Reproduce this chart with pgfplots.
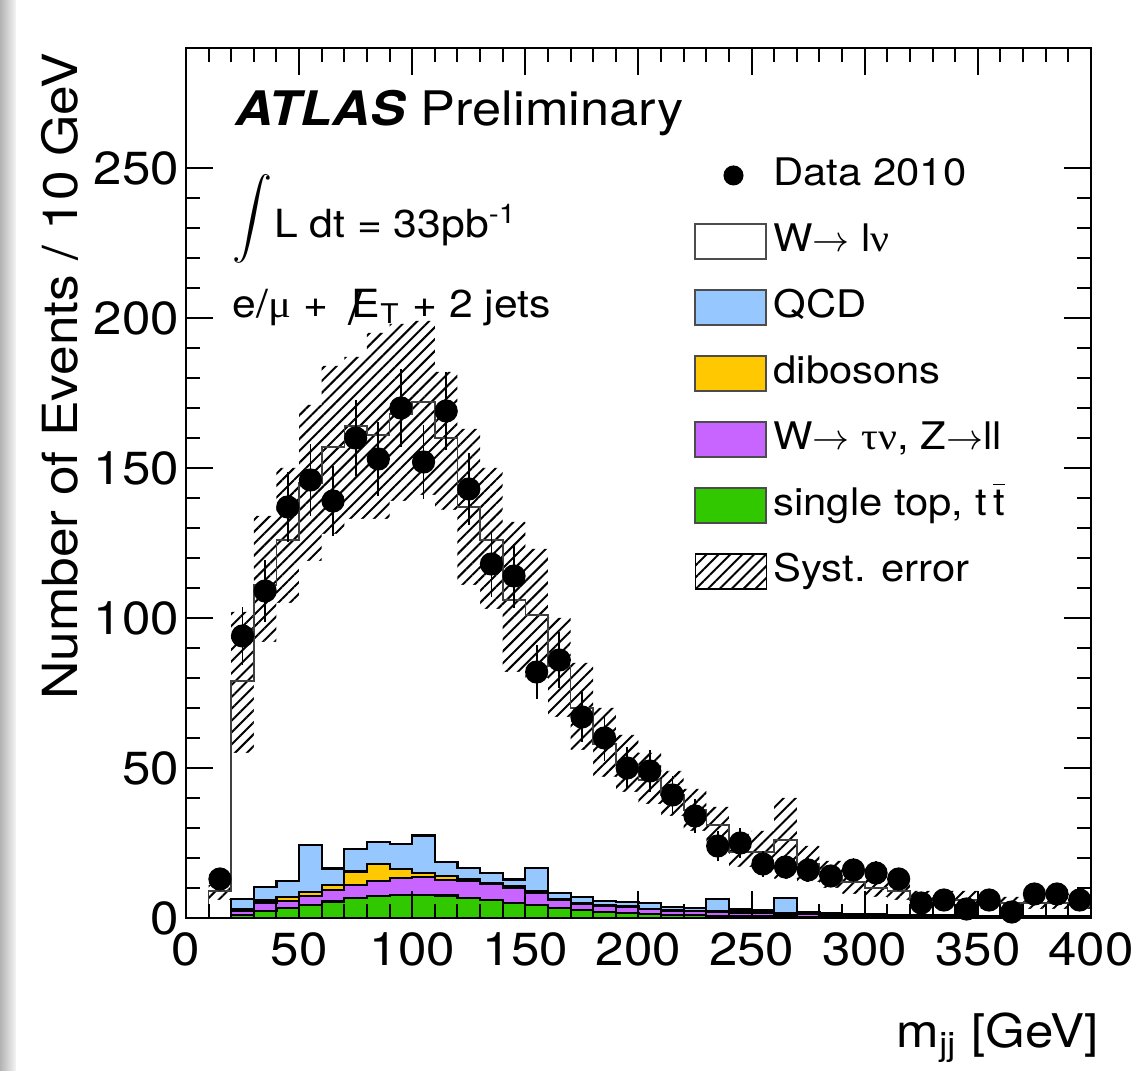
\documentclass[border=0pt]{standalone}
\usepackage{fontspec}
\setmainfont{TeX Gyre Heros}[FakeStretch=1.1]
\newfontfamily\grk{Liberation Serif}[FakeStretch=1.1]
\usepackage{pgfplots}
\pgfplotsset{compat=1.18}
\usepackage{pgfplotstable}
\usetikzlibrary{patterns.meta}

\definecolor{qcdblue}{RGB}{150,200,255}
\definecolor{dibor}{RGB}{255,200,0}
\definecolor{taupur}{RGB}{200,100,255}
\definecolor{topgr}{RGB}{50,200,0}

% cumulative stack tops per 10 GeV bin (left edge), total MC, syst. band
\pgfplotstableread{
x g gp gpd gpdq tot lo hi
10 0 0 0 0 9 6 11
20 1.0 2.3 2.8 6.3 79 55 102
30 2.3 4.9 5.8 10.4 111 92 134
40 3.2 5.6 7.0 12.4 126 105 150
50 4.4 7.4 8.7 24.2 145 119 171
60 5.5 9.4 11.1 16.5 157 128 184
70 6.6 11.1 15.5 23.1 164 133 187
80 7.2 12.3 17.9 25.3 161 133 195
90 7.7 13.4 16.3 24.6 168 139 198
100 7.7 13.6 15.0 27.5 172 141 199
110 7.5 12.6 13.9 18.7 160 136 182
120 6.6 12.2 12.8 16.7 137 111 163
130 6.0 11.3 11.6 15.0 126 103 150
140 4.9 10.0 10.5 12.8 106 82 132
150 4.4 8.5 8.8 16.6 101 80 123
160 3.2 6.0 6.3 8.4 84 67 100
170 2.6 4.6 5.0 6.9 70 56 85
180 2.1 4.0 4.3 5.7 58 47 70
190 1.7 3.6 3.8 5.2 51 42 61
200 1.3 2.9 3.1 4.9 46 38 55
210 1.0 2.5 2.7 3.6 41 34 49
220 0.9 2.2 2.4 3.4 36 29 43
230 0.7 2.1 2.3 6.4 31 25 37
240 0.6 1.8 2.0 2.8 22 17 28
250 0.5 1.6 1.8 2.5 22 15 29
260 0.5 1.5 1.6 6.6 26 13 40
270 0.4 1.2 1.3 1.8 18 12 24
280 0.3 1.0 1.1 1.5 14 10 19
290 0.3 0.9 1.0 1.3 12 8 16
300 0.2 0.8 0.9 1.2 10 7 14
310 0.2 0.7 0.8 1.1 9 6 12
320 0.2 0.6 0.7 1.0 6 4 9
330 0.1 0.5 0.6 0.9 6 4 9
340 0.1 0.5 0.5 0.8 6 3 9
350 0.1 0.4 0.5 0.7 5 3 8
360 0.1 0.4 0.4 0.6 5 3 7
370 0.1 0.3 0.4 0.6 5 3 8
380 0.1 0.3 0.3 0.5 5 3 8
390 0.1 0.3 0.3 0.5 5 3 8
400 0.1 0.3 0.3 0.5 5 3 8
}\mc

% data 2010: bin centre, events, stat. error
\pgfplotstableread{
x y e
15 13 3.6
25 94 9.7
35 109 10.4
45 137 11.7
55 146 12.1
65 139 11.8
75 160 12.6
85 153 12.4
95 170 13.0
105 152 12.3
115 169 13.0
125 143 12.0
135 118 10.9
145 114 10.7
155 82 9.1
165 86 9.3
175 67 8.2
185 60 7.7
195 50 7.1
205 49 7.0
215 41 6.4
225 34 5.8
235 24 4.9
245 25 5.0
255 18 4.2
265 17 4.1
275 16 4.0
285 14 3.7
295 16 4.0
305 15 3.9
315 13 3.6
325 5 2.2
335 6 2.4
345 3 1.7
355 6 2.4
365 2 1.4
375 8 2.8
385 8 2.8
395 6 2.4
}\data

\begin{document}
\begin{tikzpicture}
\begin{axis}[
  width=226.25pt, height=217.5pt, scale only axis,
  xmin=0, xmax=400, ymin=0, ymax=290,
  xtick={0,50,...,400}, ytick={0,50,...,250},
  minor x tick num=4, minor y tick num=4,
  major tick length=6.75pt, minor tick length=3.5pt,
  tick align=inside,
  tick label style={font=\fontsize{11.6}{14}\selectfont},
  yticklabel style={xshift=1.8pt},
  /pgf/number format/assume math mode=true,
  axis line style={line width=0.5pt},
  every tick/.style={black, line width=0.5pt},
  axis on top,
  clip mode=individual,
  legend style={at={(0.561,0.882)}, anchor=north west, draw=none, fill=none,
    inner sep=0pt, row sep=4.5pt, font=\fontsize{9.5}{11}\selectfont,
    nodes={inner sep=1.5pt, text height=7pt, text depth=2pt}},
  legend cell align=left,
]
% systematic band (hatched), then blanked below its lower edge
\addplot[const plot, pattern={Lines[angle=45,distance=2.1pt,line width=0.5pt]}, draw=none, forget plot] table[x=x,y=hi]{\mc} \closedcycle;
\addplot[const plot, fill=white, draw=none, forget plot] table[x=x,y=lo]{\mc} \closedcycle;
% total MC outline (W -> l nu on top of the stack)
\addplot[const plot, draw=black!75, line width=0.4pt, forget plot] table[x=x,y=tot]{\mc} \closedcycle;
\addplot[const plot, fill=qcdblue, draw=black, line width=0.55pt, forget plot] table[x=x,y=gpdq]{\mc} \closedcycle;
\addplot[const plot, fill=dibor, draw=black, line width=0.55pt, forget plot] table[x=x,y=gpd]{\mc} \closedcycle;
\addplot[const plot, fill=taupur, draw=black, line width=0.55pt, forget plot] table[x=x,y=gp]{\mc} \closedcycle;
\addplot[const plot, fill=topgr, draw=black, line width=0.55pt, forget plot] table[x=x,y=g]{\mc} \closedcycle;

\addplot[only marks, mark=*, mark size=2.7pt, black, forget plot,
  error bars/.cd, y dir=both, y explicit, error mark=none,
  error bar style={line width=0.45pt, black}] table[x=x,y=y,y error=e]{\data};

\addlegendimage{legend image code/.code={\fill[black] (9.5pt,0pt) circle (2.3pt);}}
\addlegendentry{Data 2010}
\addlegendimage{legend image code/.code={\draw[black!70, line width=0.5pt, fill=white] (0pt,-4.4pt) rectangle (17.75pt,4.4pt);}}
\addlegendentry{W$\rightarrow$ l{\grk ν}}
\addlegendimage{legend image code/.code={\draw[black!70, line width=0.5pt, fill=qcdblue] (0pt,-4.4pt) rectangle (17.75pt,4.4pt);}}
\addlegendentry{QCD}
\addlegendimage{legend image code/.code={\draw[black!70, line width=0.5pt, fill=dibor] (0pt,-4.4pt) rectangle (17.75pt,4.4pt);}}
\addlegendentry{dibosons}
\addlegendimage{legend image code/.code={\draw[black!70, line width=0.5pt, fill=taupur] (0pt,-4.4pt) rectangle (17.75pt,4.4pt);}}
\addlegendentry{W$\rightarrow$ {\grk τν}, Z$\rightarrow$ll}
\addlegendimage{legend image code/.code={\draw[black!70, line width=0.5pt, fill=topgr] (0pt,-4.4pt) rectangle (17.75pt,4.4pt);}}
\addlegendentry{single top, t\,$\overline{\mbox{t}}$}
\addlegendimage{legend image code/.code={\fill[pattern={Lines[angle=45,distance=2.1pt,line width=0.5pt]}] (0pt,-4.4pt) rectangle (17.75pt,4.4pt);}}
\addlegendentry{Syst. error}

\node[anchor=base west, inner sep=0pt, font=\fontsize{11.9}{14}\selectfont] at (rel axis cs:0.054,0.911) {\textbf{\textit{ATLAS}} Preliminary};
\node[anchor=base west, inner sep=0pt, font=\fontsize{9.7}{12}\selectfont] at (rel axis cs:0.051,0.782) {\raisebox{2pt}{\fontsize{11}{13}\selectfont$\displaystyle\int$}\hspace{0.3pt}L dt = 33pb\textsuperscript{-1}};
\node[anchor=base west, inner sep=0pt, font=\fontsize{9.7}{12}\selectfont] at (rel axis cs:0.051,0.690) {e/{\grk μ} + \ \makebox[0pt][l]{\hspace{-0.1em}\raisebox{-0.18em}{\fontsize{12}{12}\selectfont/}}E\textsubscript{T} + 2 jets};

\node[rotate=90, anchor=base east, inner sep=0pt, font=\fontsize{12.1}{14}\selectfont] at ([xshift=-27pt,yshift=-1pt]rel axis cs:0,1) {Number of Events / 10 GeV};
\node[anchor=base east, inner sep=0pt, font=\fontsize{11.6}{14}\selectfont] at ([xshift=2.25pt,yshift=-32.5pt]rel axis cs:1,0) {m\textsubscript{jj} [GeV]};
\end{axis}
\pgfresetboundingbox
\path[use as bounding box] (-46.5pt,-38.25pt) rectangle (240.25pt,229.5pt);
\shade[left color=gray!60, right color=gray!8] (-46.5pt,-38.25pt) rectangle (-42.5pt,229.5pt);
\end{tikzpicture}
\end{document}
